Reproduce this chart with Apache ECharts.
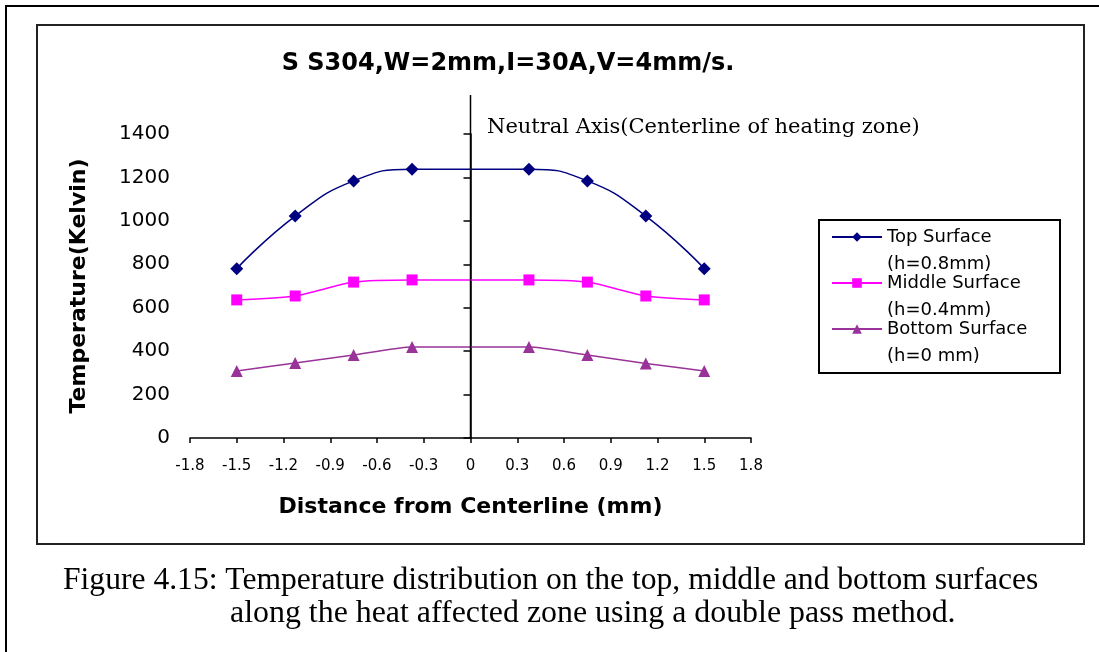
<!DOCTYPE html>
<html><head><meta charset="utf-8">
<script src="https://cdn.jsdelivr.net/npm/echarts@6/dist/echarts.min.js"></script>
<style>html,body{margin:0;padding:0;background:#fff}#c{width:1099px;height:652px}</style>
</head><body><div id="c"></div>
<script>
// ---- data ----
const distances = [-1.5, -1.125, -0.75, -0.375, 0.375, 0.75, 1.125, 1.5];
const topSurface = [780, 1022, 1184, 1238, 1238, 1184, 1022, 780];
const middleSurface = [636, 654, 718, 728, 728, 718, 654, 636];
const bottomSurface = [309, 345, 382, 419, 419, 382, 343, 309];
const seriesNames = ['Top Surface\n(h=0.8mm)', 'Middle Surface\n(h=0.4mm)', 'Bottom Surface\n(h=0 mm)'];
const neutralAxisX = [0, 0];
const neutralAxisY = [0, 1];
const titleText = 'S S304,W=2mm,I=30A,V=4mm/s.';
const xAxisTitle = 'Distance from Centerline (mm)';
const yAxisTitle = 'Temperature(Kelvin)';
const neutralLabel = 'Neutral Axis(Centerline of heating zone)';
const captionLine1 = 'Figure 4.15: Temperature distribution on the top, middle and bottom surfaces';
const captionLine2 = 'along the heat affected zone using a double pass method.';

const pairs = arr => distances.map((x, i) => [x, arr[i]]);

const chart = echarts.init(document.getElementById('c'), null, {renderer: 'canvas'});
const sans = 'DejaVu Sans';
chart.setOption({
  animation: false,
  backgroundColor: '#fff',
  title: {
    text: titleText, left: 508, top: 52, textAlign: 'center', padding: 0,
    textStyle: {fontFamily: sans, fontWeight: 'bold', fontSize: 24, color: '#000'}
  },
  legend: {
    data: seriesNames, orient: 'vertical', left: 831, top: 196.5, padding: 0,
    itemWidth: 50, itemHeight: 12, itemGap: -35,
    formatter: name => '\n' + name,
    textStyle: {fontFamily: sans, fontSize: 18, color: '#000', lineHeight: 27}
  },
  grid: [
    {left: 190, right: 348, top: 134, bottom: 214},
    {left: 190, right: 348, top: 95, bottom: 214}
  ],
  xAxis: [{
    gridIndex: 0, type: 'value', min: -1.8, max: 1.8, interval: 0.3,
    name: xAxisTitle, nameLocation: 'middle', nameGap: 58,
    nameTextStyle: {fontFamily: sans, fontWeight: 'bold', fontSize: 22, color: '#000'},
    axisLine: {lineStyle: {color: '#000', width: 1.5}},
    axisTick: {length: 5, lineStyle: {color: '#000', width: 1.5}},
    axisLabel: {fontFamily: sans, fontSize: 15, color: '#000', margin: 21,
      formatter: v => (Math.abs(v) < 1e-9 ? '0' : v.toFixed(1))},
    splitLine: {show: false}
  }, {
    gridIndex: 1, type: 'value', min: -1.8, max: 1.8, show: false
  }],
  yAxis: [{
    gridIndex: 0, type: 'value', min: 0, max: 1400, interval: 200,
    name: yAxisTitle, nameLocation: 'middle', nameGap: 100,
    nameTextStyle: {fontFamily: sans, fontWeight: 'bold', fontSize: 22, color: '#000'},
    axisLine: {show: true, lineStyle: {color: '#000', width: 1.5}},
    axisTick: {show: true, length: 7, lineStyle: {color: '#000', width: 1.5}},
    axisLabel: {fontFamily: sans, fontSize: 20, color: '#000', margin: 20,
      formatter: v => String(Math.round(v))},
    splitLine: {show: false}
  }, {
    gridIndex: 1, type: 'value', min: 0, max: 1, show: false
  }],
  graphic: [
    {type: 'rect', z: -10, shape: {x: 6, y: 6, width: 1200, height: 800}, style: {fill: null, stroke: '#000', lineWidth: 2}},
    {type: 'rect', z: -10, shape: {x: 37, y: 25, width: 1047, height: 519}, style: {fill: null, stroke: '#222', lineWidth: 2}},
    {type: 'rect', z: -10, shape: {x: 819, y: 220, width: 241, height: 153}, style: {fill: null, stroke: '#000', lineWidth: 2}},
    {type: 'text', left: 487, top: 117, style: {text: neutralLabel, font: '21px "DejaVu Serif"', fill: '#000'}},
    {type: 'text', left: 63, top: 565, style: {text: captionLine1, font: '31.6px "Liberation Serif"', fill: '#000'}},
    {type: 'text', left: 230, top: 598, style: {text: captionLine2, font: '31.9px "Liberation Serif"', fill: '#000'}}
  ],
  series: [
    {name: seriesNames[0], type: 'line', xAxisIndex: 0, yAxisIndex: 0, data: pairs(topSurface),
      smooth: 0.5, symbol: 'diamond', symbolSize: 13, color: '#000080',
      lineStyle: {width: 1.5, color: '#000080'}, itemStyle: {color: '#000080'}},
    {name: seriesNames[1], type: 'line', xAxisIndex: 0, yAxisIndex: 0, data: pairs(middleSurface),
      smooth: 0.25, symbol: 'rect', symbolSize: 11, color: '#FF00FF',
      lineStyle: {width: 1.5, color: '#FF00FF'}, itemStyle: {color: '#FF00FF'}},
    {name: seriesNames[2], type: 'line', xAxisIndex: 0, yAxisIndex: 0, data: pairs(bottomSurface),
      smooth: 0.2, symbol: 'triangle', symbolSize: 12, color: '#993399',
      lineStyle: {width: 1.5, color: '#993399'}, itemStyle: {color: '#993399'}},
    {name: 'neutral', type: 'line', xAxisIndex: 1, yAxisIndex: 1, silent: true,
      data: neutralAxisX.map((x, i) => [x, neutralAxisY[i]]), showSymbol: false, symbol: 'none',
      lineStyle: {width: 1.5, color: '#000'}}
  ]
});
</script></body></html>
